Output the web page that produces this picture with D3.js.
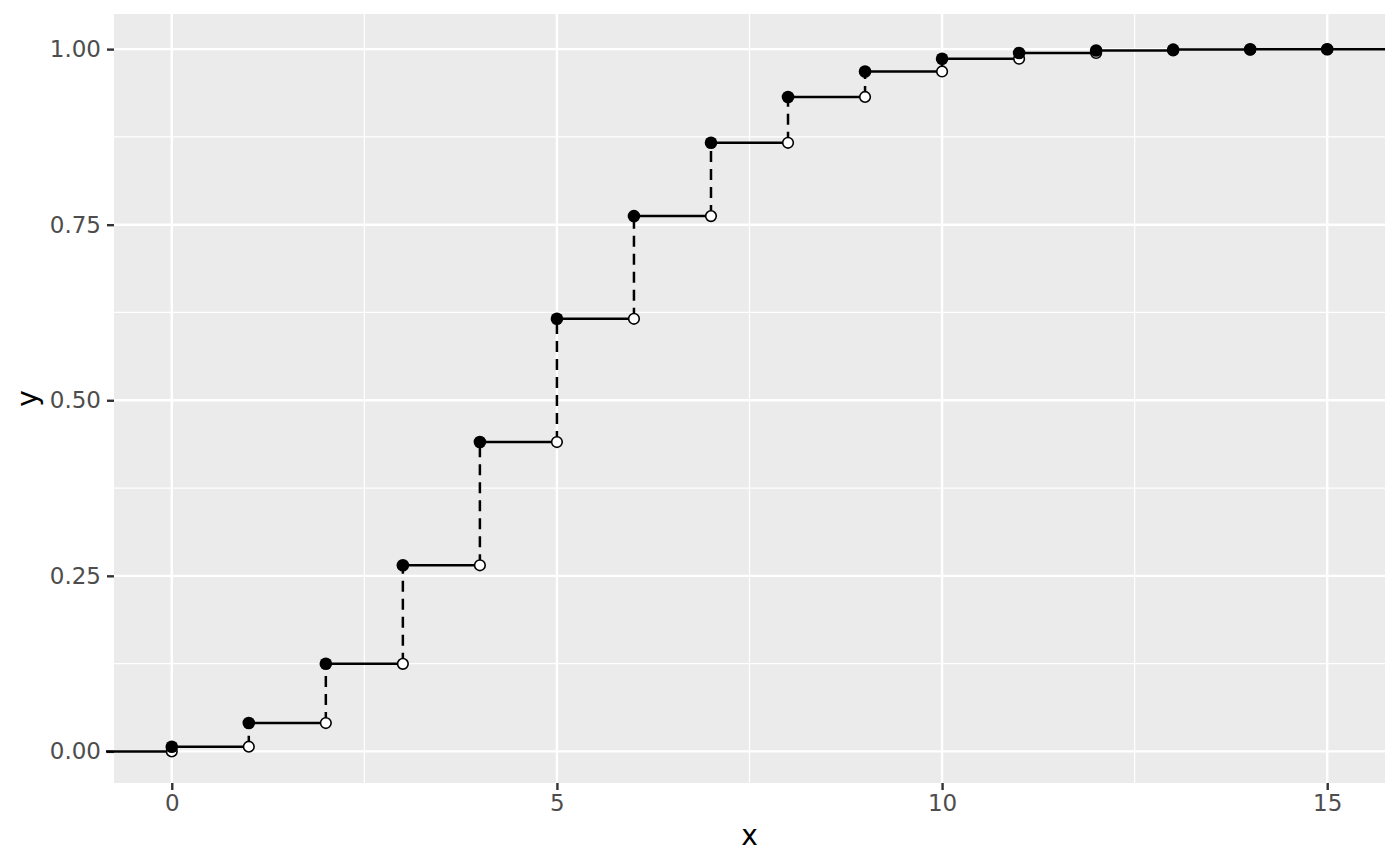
<!DOCTYPE html>
<html>
<head>
<meta charset="utf-8">
<script src="https://cdn.jsdelivr.net/npm/d3@7"></script>
<style>
  body { margin: 0; background: #fff; }
  text { font-family: "DejaVu Sans", sans-serif; }
</style>
</head>
<body>
<div id="chart"></div>
<script>
// step values
const xs = [0, 1, 2, 3, 4, 5, 6, 7, 8, 9, 10, 11, 12, 13, 14, 15];
const cdf = [0.0067, 0.0404, 0.1247, 0.2650, 0.4405, 0.6160, 0.7622, 0.8666,
  0.9319, 0.9682, 0.9863, 0.9945, 0.9980, 0.9993, 0.9998, 0.9999];
const xTicks = [0, 5, 10, 15];
const yTicks = [0, 0.25, 0.5, 0.75, 1];

const W = 1400, H = 866;
const margin = { top: 14, right: 15, bottom: 83, left: 114 };
const width = W - margin.left - margin.right,
  height = H - margin.top - margin.bottom;

const svg = d3.select("#chart").append("svg").attr("width", W).attr("height", H);
const g = svg.append("g").attr("transform", "translate(" + margin.left + "," + margin.top + ")");

const x = d3.scaleLinear().domain([-0.75, 15.75]).range([0, width]);
const y = d3.scaleLinear().domain([-0.045, 1.05]).range([height, 0]);

// panel
g.append("rect").attr("width", width).attr("height", height).attr("fill", "#ebebeb");

// minor grid
const xMinor = [2.5, 7.5, 12.5];
const yMinor = [0.125, 0.375, 0.625, 0.875];
g.selectAll(".xminor").data(xMinor).enter().append("line")
  .attr("x1", (d) => x(d)).attr("x2", (d) => x(d)).attr("y1", 0).attr("y2", height)
  .attr("stroke", "#fff").attr("stroke-width", 1.2);
g.selectAll(".yminor").data(yMinor).enter().append("line")
  .attr("y1", (d) => y(d)).attr("y2", (d) => y(d)).attr("x1", 0).attr("x2", width)
  .attr("stroke", "#fff").attr("stroke-width", 1.2);
// major grid
g.selectAll(".xmajor").data(xTicks).enter().append("line")
  .attr("x1", (d) => x(d)).attr("x2", (d) => x(d)).attr("y1", 0).attr("y2", height)
  .attr("stroke", "#fff").attr("stroke-width", 2.4);
g.selectAll(".ymajor").data(yTicks).enter().append("line")
  .attr("y1", (d) => y(d)).attr("y2", (d) => y(d)).attr("x1", 0).attr("x2", width)
  .attr("stroke", "#fff").attr("stroke-width", 2.4);

// axes
const xAxis = g.append("g").attr("transform", "translate(0," + height + ")")
  .call(d3.axisBottom(x).tickValues(xTicks).tickSize(7).tickPadding(5).tickFormat(d3.format("d")));
const yAxis = g.append("g")
  .call(d3.axisLeft(y).tickValues(yTicks).tickSize(7).tickPadding(6).tickFormat(d3.format(".2f")));
[xAxis, yAxis].forEach((a) => {
  a.attr("font-size", 23).attr("font-family", "DejaVu Sans, sans-serif");
  a.select(".domain").remove();
  a.selectAll(".tick line").attr("stroke", "#333").attr("stroke-width", 2.4);
  a.selectAll(".tick text").attr("fill", "#4d4d4d").attr("font-size", 23);
});

// step lines
const prev = cdf.map((d, i) => (i === 0 ? 0 : cdf[i - 1]));
const lineW = 2.5;
// horizontal segments
g.append("line").attr("x1", -8).attr("x2", x(xs[0])).attr("y1", y(0)).attr("y2", y(0))
  .attr("stroke", "#000").attr("stroke-width", lineW);
g.selectAll(".hseg").data(xs).enter().append("line")
  .attr("x1", (d) => x(d))
  .attr("x2", (d, i) => (i < xs.length - 1 ? x(xs[i + 1]) : width))
  .attr("y1", (d, i) => y(cdf[i])).attr("y2", (d, i) => y(cdf[i]))
  .attr("stroke", "#000").attr("stroke-width", lineW);
// dashed verticals
g.selectAll(".vseg").data(xs).enter().append("line")
  .attr("x1", (d) => x(d)).attr("x2", (d) => x(d))
  .attr("y1", (d, i) => y(prev[i])).attr("y2", (d, i) => y(cdf[i]))
  .attr("stroke", "#000").attr("stroke-width", lineW).attr("stroke-dasharray", "11,7");

// open circles (value before jump)
g.selectAll(".open").data(xs).enter().append("circle")
  .attr("cx", (d) => x(d)).attr("cy", (d, i) => y(prev[i])).attr("r", 5.3)
  .attr("fill", "#fff").attr("stroke", "#000").attr("stroke-width", 1.6);
// filled circles (value after jump)
g.selectAll(".fill").data(xs).enter().append("circle")
  .attr("cx", (d) => x(d)).attr("cy", (d, i) => y(cdf[i])).attr("r", 6.3)
  .attr("fill", "#000");

// axis titles
svg.append("text").attr("x", margin.left + width / 2).attr("y", 845)
  .attr("text-anchor", "middle").style("font-size", "28px").text("x");
svg.append("text").attr("transform", "translate(37," + (margin.top + height / 2) + ") rotate(-90)")
  .attr("text-anchor", "middle").style("font-size", "28px").text("y");
</script>
</body>
</html>
